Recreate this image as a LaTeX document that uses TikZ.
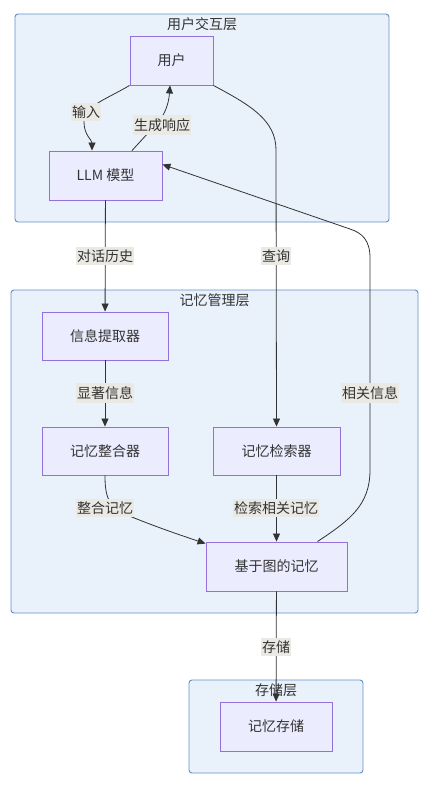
\documentclass[tikz,border=0pt]{standalone}
\usepackage{fontspec}
\setmainfont{Noto Sans CJK SC}
\usetikzlibrary{arrows.meta,positioning}
\definecolor{lyfill}{RGB}{233,241,251}
\definecolor{lydraw}{RGB}{98,142,198}
\definecolor{ndfill}{RGB}{236,236,255}
\definecolor{nddraw}{RGB}{147,112,219}
\definecolor{lbfill}{RGB}{234,233,228}
\definecolor{txt}{RGB}{51,51,51}
\definecolor{edge}{RGB}{51,51,51}

\begin{document}
\begin{tikzpicture}[x=1pt, y=-1pt,
    every node/.style={font=\fontsize{14}{16}\selectfont, text=txt},
    layer/.style={rectangle, rounded corners=3pt, draw=lydraw, fill=lyfill, line width=0.9pt, inner sep=0pt},
    box/.style={rectangle, draw=nddraw, fill=ndfill, line width=0.9pt, minimum height=49pt, inner sep=0pt},
    lbl/.style={fill=lbfill, inner xsep=1pt, inner ysep=3pt},
    arr/.style={-{Triangle[length=8pt, width=7pt]}, edge, line width=0.8pt}
]
  \useasboundingbox (0,0) rectangle (424,790);
  % layers
  \node[layer, minimum width=374pt, minimum height=208pt] (uilayer) at (202,118) {};
  \node[below=1pt of uilayer.north] (uititle) {用户交互层};
  \node[layer, minimum width=407pt, minimum height=323pt] (memlayer) at (214.5,451.5) {};
  \node[below=1pt of memlayer.north] (memtitle) {记忆管理层};
  \node[layer, minimum width=174pt, minimum height=93pt] (stlayer) at (276,726.5) {};
  \node[below=1pt of stlayer.north] (sttitle) {存储层};
  % nodes
  \node[box, minimum width=83pt] (user) at (171.5,60.5) {用户};
  \node[box, minimum width=113pt] (llm) at (105.5,175.5) {LLM 模型};
  \node[box, minimum width=126pt, minimum height=48pt] (extract) at (105,336) {信息提取器};
  \node[box, minimum width=126pt, minimum height=48pt] (merge) at (105,451) {记忆整合器};
  \node[box, minimum width=127pt, minimum height=48pt] (retrieve) at (276.5,451) {记忆检索器};
  \node[box, minimum width=141pt] (graph) at (276.5,566.5) {基于图的记忆};
  \node[box, minimum width=112pt] (store) at (276,726.5) {记忆存储};
  % edges
  \draw[arr] (user.south west) .. controls (105,100) and (84,106) .. (84,122)
    .. controls (84,135) and (92,140) .. ([xshift=-13.5pt]llm.north);
  \node[lbl] (l-input) at (86,112) {输入};
  \draw[arr] ([xshift=26.5pt]llm.north) -- (160,120)
    .. controls (167,110) and (169,100) .. ([xshift=-1.5pt]user.south);
  \node[lbl] (l-gen) at (162,125) {生成响应};
  \draw[arr] (user.south east) .. controls (250,105) and (276,120) .. (276,150) -- (retrieve.north);
  \node[lbl] (l-query) at (276,256) {查询};
  \draw[arr] (llm) -- (extract);
  \node[lbl] (l-hist) at (105,256) {对话历史};
  \draw[arr] (extract) -- (merge);
  \node[lbl] (l-sal) at (105,393) {显著信息};
  \draw[arr] (merge.south) .. controls (105,495) and (108,500) .. (115,510)
    .. controls (150,525) and (180,535) .. ([yshift=-2pt]graph.north west);
  \node[lbl] (l-merge) at (105,508) {整合记忆};
  \draw[arr] (retrieve) -- (graph);
  \node[lbl] (l-ret) at (276,508) {检索相关记忆};
  \draw[arr] ([xshift=41pt]graph.north) .. controls (350,520) and (370,505) .. (370,470)
    -- (370,258) .. controls (370,240) and (362,233) .. (350,229)
    -- ([yshift=11pt]llm.east);
  \node[lbl] (l-rel) at (370,393) {相关信息};
  \draw[arr] (graph) -- (store);
  \node[lbl] (l-store) at (276,647) {存储};
\end{tikzpicture}
\end{document}
